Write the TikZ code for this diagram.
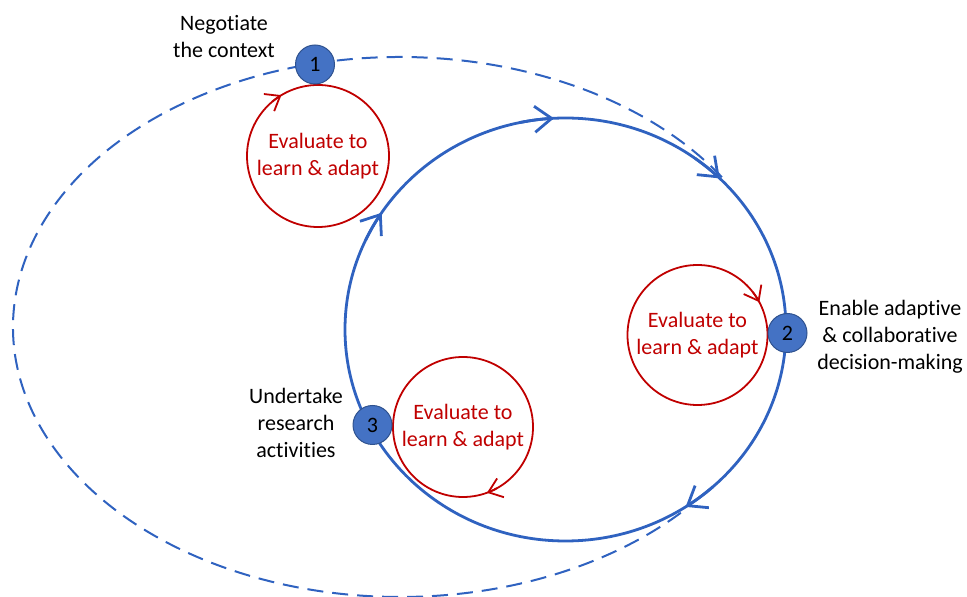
\documentclass[tikz,border=0pt]{standalone}
\usepackage{fontspec}
\setmainfont{Carlito}[Ligatures=NoCommon]
\usetikzlibrary{arrows.meta,calc}
\definecolor{lineblue}{RGB}{47,98,192}
\definecolor{nodeblue}{RGB}{68,114,196}
\definecolor{nodeedge}{RGB}{47,82,143}
\definecolor{evalred}{RGB}{192,0,0}
\begin{document}
\begin{tikzpicture}[x=1pt,y=1pt,
  txt/.style={font=\fontsize{22}{27}\selectfont, align=center, inner sep=0pt},
  evalcircle/.style={circle, draw=evalred, line width=1.8pt, inner sep=0pt, text=evalred, font=\fontsize{22}{27}\selectfont, align=center},
  stepnode/.style={circle, fill=nodeblue, draw=nodeedge, line width=1pt, minimum size=39pt, inner sep=0pt, font=\fontsize{22}{27}\selectfont},
  mainloop/.style={draw=lineblue, line width=2.8pt},
  dashloop/.style={draw=lineblue, line width=2pt, dash pattern=on 16pt off 9pt},
  bluearrow/.style={lineblue, line width=2.8pt, -{Straight Barb[length=17pt,width=26pt]}},
  redarrow/.style={evalred, line width=1.8pt, -{Straight Barb[length=13pt,width=20pt]}}
]
\useasboundingbox (0,0) rectangle (967,597);
\coordinate (S) at (565.5,267.5);
\coordinate (D) at (400,270);
% outer dashed loop (its right side runs along the solid loop)
\draw[dashloop] ($(D)+({387*cos(33.7)},{270*sin(33.7)})$) arc[start angle=33.7, end angle=318, x radius=387, y radius=270];
% inner solid loop
\draw[mainloop] (S) ellipse [x radius=220.5, y radius=211.5];
\draw[bluearrow] ($(S)+({220.5*cos(102)},{211.5*sin(102)})$) arc[start angle=102, end angle=93, x radius=220.5, y radius=211.5];
\draw[bluearrow] ($(S)+({220.5*cos(54)},{211.5*sin(54)})$) arc[start angle=54, end angle=45.6, x radius=220.5, y radius=211.5];
\draw[bluearrow] ($(S)+({220.5*cos(-48)},{211.5*sin(-48)})$) arc[start angle=-48, end angle=-57, x radius=220.5, y radius=211.5];
\draw[bluearrow] ($(S)+({220.5*cos(155)},{211.5*sin(155)})$) arc[start angle=155, end angle=146.5, x radius=220.5, y radius=211.5];
% evaluate circles
\node[evalcircle, minimum size=142pt] (r1) at (318,441) {Evaluate to\\learn \& adapt};
\node[evalcircle, minimum size=140pt] (r2) at (697.5,262) {Evaluate to\\learn \& adapt};
\node[evalcircle, minimum size=140pt] (r3) at (463,170) {Evaluate to\\learn \& adapt};
\draw[redarrow] ($(r1.center)+(130:71)$) arc[start angle=130, end angle=121, radius=71];
\draw[redarrow] ($(r2.center)+(38:70)$) arc[start angle=38, end angle=28, radius=70];
\draw[redarrow] ($(r3.center)+(-61:70)$) arc[start angle=-61, end angle=-70, radius=70];
% step markers
\node[stepnode] (n1) at (315,532.5) {1};
\node[stepnode] (n2) at (787.5,264) {2};
\node[stepnode] (n3) at (372.5,172) {3};
% labels
\node[txt] (l1) at (224,560) {Negotiate\\the context};
\node[txt] (l2) at (890,260) {Enable adaptive\\\& collaborative\\decision-making};
\node[txt] (l3) at (296,174.5) {Undertake\\research\\activities};
\end{tikzpicture}
\end{document}
